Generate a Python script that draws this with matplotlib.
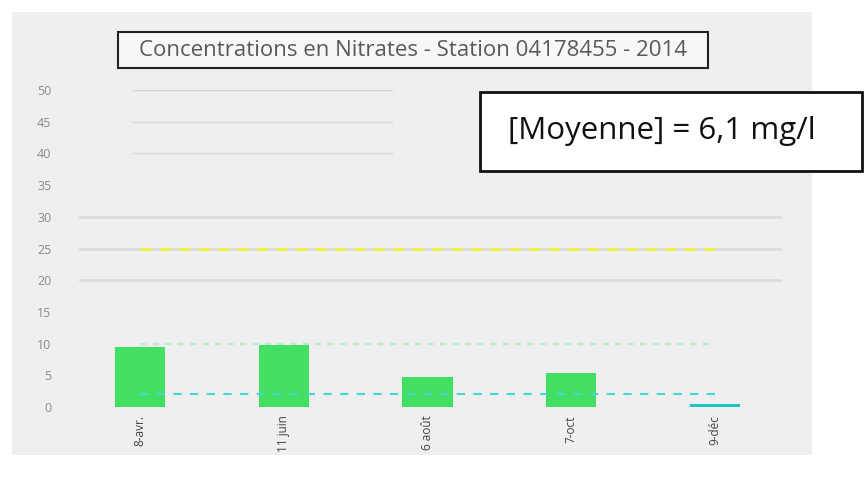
import matplotlib.pyplot as plt
from matplotlib.patches import Rectangle

# data
dates = ['8-avr.', '11 juin', '6 août', '7-oct', '9-déc']
nitrates = [9.5, 9.8, 4.7, 5.4, 0.4]
bar_colors = ['#43de64', '#43de64', '#43de64', '#43de64', '#1fc4c4']
ref_low = [2, 2, 2, 2, 2]
ref_mid = [10, 10, 10, 10, 10]
ref_high = [25, 25, 25, 25, 25]
yticks = [0, 5, 10, 15, 20, 25, 30, 35, 40, 45, 50]

W, H = 866, 483
fig = plt.figure(figsize=(W / 100, H / 100), dpi=100)
fig.patch.set_facecolor('white')

# grey chart area
fig.patches.append(Rectangle((12 / W, 1 - 455 / H), 800 / W, 443 / H,
                             transform=fig.transFigure, facecolor='#efefef',
                             edgecolor='none', zorder=-1))

ax = fig.add_axes([68 / W, 1 - 407 / H, 719 / W, 317 / H])
ax.set_facecolor('none')
ax.set_zorder(1)
x = range(len(dates))

# grid lines
for v in [20, 25, 30]:
    ax.axhline(v, xmin=0.016, xmax=0.99, color='#dcdcdc', lw=2, zorder=1)
for v in [40, 45, 50]:
    ax.axhline(v, xmin=0.09, xmax=0.45, color='#d6d6d6', lw=1, zorder=1)

ax.bar(x, nitrates, width=0.35, color=bar_colors, zorder=2)
ax.plot(x, ref_high, color='#eef23a', lw=2, ls=(0, (4, 3)), zorder=3)
ax.plot(x, ref_mid, color='#b6eec6', lw=1.5, ls=(0, (3, 3)), zorder=3)
ax.plot(x, ref_low, color='#44d8d4', lw=1.5, ls=(0, (4, 4)), zorder=3)

ax.set_xlim(-0.5, 4.5)
ax.set_ylim(0, 50)
ax.set_yticks(yticks)
ax.set_xticks(list(x))
ax.set_xticklabels(dates, rotation=90, fontsize=8.5, color='#444444',
                   family='Open Sans')
ax.tick_params(axis='y', length=0, pad=12, labelsize=9, labelcolor='#8a8a8a')
ax.tick_params(axis='x', length=0, pad=6)
for lab in ax.get_yticklabels():
    lab.set_family('Open Sans')
for s in ax.spines.values():
    s.set_visible(False)

# title box
fig.patches.append(Rectangle((118 / W, 1 - 68 / H), 590 / W, 36 / H,
                             transform=fig.transFigure, facecolor='#f7f7f7',
                             edgecolor='#222222', lw=1.5, zorder=4))
fig.text(413 / W, 1 - 50 / H,
         'Concentrations en Nitrates - Station 04178455 - 2014',
         ha='center', va='center', fontsize=16, color='#595959',
         family='Open Sans', zorder=5)

# mean box
fig.patches.append(Rectangle((480 / W, 1 - 171 / H), 382 / W, 79 / H,
                             transform=fig.transFigure, facecolor='white',
                             edgecolor='#111111', lw=2, zorder=4))
fig.text(508 / W, 1 - 131 / H, '[Moyenne] = 6,1 mg/l',
         ha='left', va='center', fontsize=22.5, color='#111111',
         family='Open Sans', zorder=5)

fig.savefig('out.png', dpi=100)
